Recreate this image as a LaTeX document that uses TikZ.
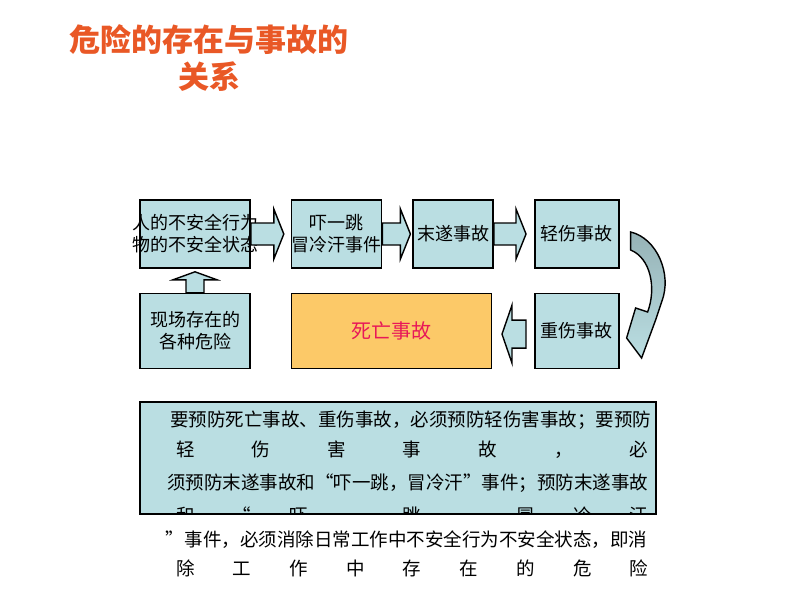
\documentclass[tikz,border=0pt]{standalone}
\usepackage{fontspec}
\setmainfont{Noto Sans CJK SC}
\usetikzlibrary{positioning,calc}

\definecolor{boxblue}{RGB}{186,222,226}
\definecolor{deathfill}{RGB}{252,201,104}
\definecolor{deathred}{RGB}{232,24,88}
\definecolor{titleorange}{RGB}{233,88,38}
\definecolor{curvetop}{RGB}{150,178,182}

% block arrows between the boxes
\newcommand{\rightblock}[2]{\draw[blockarrow,shift={(#1)}] (0,-11) -- (#2,-11) -- (#2,-25) -- ({#2+10},0) -- (#2,25) -- (#2,11) -- (0,11) -- cycle;}
\newcommand{\leftblock}[1]{\draw[blockarrow,shift={(#1)}] (0,-14) -- (-14,-14) -- (-14,-29) -- (-24,0) -- (-14,29) -- (-14,14) -- (0,14) -- cycle;}
\newcommand{\upblock}[1]{\draw[blockarrow,shift={(#1)}] (-9,0) -- (-9,-13) -- (-22,-13) -- (0,-21) -- (22,-13) -- (9,-13) -- (9,0) -- cycle;}

\begin{document}
\begin{tikzpicture}[x=1pt,y=-1pt]
  \tikzstyle{box}=[rectangle, draw=black, line width=1.6pt, fill=boxblue, minimum height=68pt, inner sep=0pt]
  \tikzstyle{lowbox}=[box, minimum height=75pt]
  \tikzstyle{boxtext}=[font=\fontsize{18}{22}\selectfont, align=center, inner sep=0pt]
  \tikzstyle{blockarrow}=[draw=black, line width=1.4pt, fill=boxblue, line join=miter]
  \tikzstyle{notetext}=[font=\fontsize{18.5}{22}\selectfont, anchor=west, inner sep=0pt]
  \useasboundingbox (0,0) rectangle (800,600);

  \node[font=\fontsize{31}{37}\selectfont\bfseries, text=titleorange, align=center] (title) at (209,58) {危险的存在与事故的\\关系};

  \node[box,minimum width=110pt] (unsafe) at (195,234) [label={[boxtext]center:人的不安全行为\\物的不安全状态}] {};
  \node[box,minimum width=90pt,node distance=40pt] (scare) [right=of unsafe,label={[boxtext]center:吓一跳\\冒冷汗事件}] {};
  \node[box,minimum width=80pt,node distance=30pt] (nearmiss) [right=of scare,label={[boxtext]center:末遂事故}] {};
  \node[box,minimum width=84pt,node distance=40pt] (minor) [right=of nearmiss,label={[boxtext]center:轻伤事故}] {};
  \node[lowbox,minimum width=110pt,node distance=24pt] (hazard) [below=of unsafe,label={[boxtext]center:现场存在的\\各种危险}] {};
  \node[lowbox,minimum width=200pt,fill=deathfill,node distance=40pt] (death) [right=of hazard,label={[boxtext,font=\fontsize{20}{24}\selectfont,text=deathred]center:死亡事故}] {};
  \node[lowbox,minimum width=84pt,node distance=24pt] (major) [below=of minor,label={[boxtext]center:重伤事故}] {};

  \rightblock{unsafe.east}{23}
  \rightblock{scare.east}{18}
  \rightblock{nearmiss.east}{22}
  \leftblock{$(major.west)+(-8,3)$}
  \upblock{hazard.north}
  \draw[line width=1.4pt, line join=miter, top color=curvetop, bottom color=boxblue, shift={(minor.east)}]
    (11,-2) .. controls (37,4) and (53,40) .. (42,68) -- (36,86) -- (22,124) -- (7,104)
    -- (16,74) -- (28,78) .. controls (37,54) and (31,24) .. (11,16) -- cycle;

  \node[box,minimum width=516pt,minimum height=112pt,anchor=north west] (note) at (139,401) {};
  \node[notetext] (l1) at (170,420) {要预防死亡事故、重伤事故，必须预防轻伤害事故；要预防};
  \node[notetext] (l2) at (176,450) {\makebox[472pt][s]{轻\hfill 伤\hfill 害\hfill 事\hfill 故\hfill ，\hfill 必}};
  \node[notetext] (l3) at (167,483) {须预防末遂事故和“吓一跳，冒冷汗”事件；预防末遂事故};
  \begin{scope}
    \clip (139,401) rectangle (655,512);
    \node[notetext] (l4) at (176,516) {\makebox[472pt][s]{和\hfill “\hfill 吓\hfill 一\hfill 跳\hfill ，\hfill 冒\hfill 冷\hfill 汗}};
  \end{scope}
  \node[notetext] (l5) at (165,540) {”\hspace{1pt}事件，必须消除日常工作中不安全行为不安全状态，即消};
  \node[notetext] (l6) at (176,568) {\makebox[472pt][s]{除\hfill 工\hfill 作\hfill 中\hfill 存\hfill 在\hfill 的\hfill 危\hfill 险}};
\end{tikzpicture}
\end{document}
